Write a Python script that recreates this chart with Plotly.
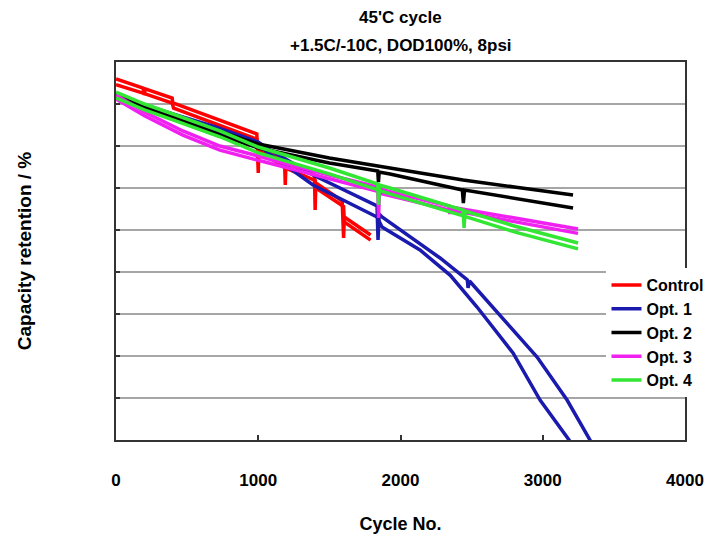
import plotly.graph_objects as go

# ---------------- data ----------------
series_names = ["Control", "Opt. 1", "Opt. 2", "Opt. 3", "Opt. 4"]
series_colors = ["#ff0000", "#1a1aae", "#000000", "#f020f0", "#33e633"]

# Control (two cells)
control_a_x = [0, 190, 200, 205, 395, 400, 405, 990, 1000, 1005, 1185, 1190, 1195, 1395, 1400, 1405, 1590, 1600, 1605, 1790]
control_a_y = [97.98, 96.9, 96.07, 96.79, 95.71, 95.0, 95.12, 91.43, 86.79, 90.0, 88.1, 85.36, 87.98, 86.55, 82.38, 85.6, 83.45, 79.05, 81.55, 79.4]
control_b_x = [0, 190, 395, 405, 990, 1005, 1190, 1400, 1405, 1600, 1605, 1790]
control_b_y = [97.3, 96.3, 95.1, 94.5, 90.8, 89.5, 87.4, 85.9, 85.0, 82.8, 80.95, 78.8]

# Opt. 1
opt1_a_x = [0, 200, 400, 700, 1000, 1060, 1385, 1835, 1842, 1850, 1870, 2278, 2470, 2475, 2485, 2700, 2960, 3171, 3332, 3360]
opt1_a_y = [96.07, 94.88, 93.81, 92.26, 90.48, 89.76, 86.55, 82.86, 78.81, 81.9, 81.55, 76.67, 74.05, 73.1, 73.93, 69.88, 64.88, 59.76, 55.0, 54.17]
opt1_b_x = [0, 400, 1000, 1060, 1385, 1835, 1870, 2137, 2350, 2538, 2791, 2981, 3185, 3220]
opt1_b_y = [95.83, 93.45, 90.12, 89.29, 85.36, 81.55, 80.36, 77.62, 74.6, 70.83, 65.36, 59.76, 55.0, 54.05]

# Opt. 2
opt2_a_x = [0, 400, 1000, 1500, 1926, 2440, 2800, 3213]
opt2_a_y = [96.07, 93.57, 90.24, 88.57, 87.38, 85.95, 85.12, 84.17]
opt2_b_x = [0, 400, 1000, 1500, 1840, 1845, 1850, 1926, 2435, 2442, 2450, 2800, 3213]
opt2_b_y = [95.71, 93.21, 89.76, 87.98, 87.02, 85.71, 86.9, 86.67, 84.76, 83.21, 84.76, 83.81, 82.62]

# Opt. 3
opt3_a_x = [0, 200, 470, 730, 1000, 1200, 1500, 1840, 1846, 1852, 2340, 2347, 2354, 2800, 3248]
opt3_a_y = [96.07, 94.05, 91.79, 90.0, 88.81, 87.86, 86.55, 85.12, 81.43, 84.88, 82.86, 81.9, 82.74, 81.43, 80.12]
opt3_b_x = [0, 200, 470, 730, 1000, 1200, 1500, 1840, 1852, 2340, 2800, 3248]
opt3_b_y = [95.6, 93.6, 91.3, 89.5, 88.3, 87.4, 86.1, 84.6, 84.4, 82.4, 81.0, 79.6]

# Opt. 4
opt4_a_x = [0, 200, 400, 730, 1000, 1500, 1840, 1846, 1852, 1926, 2440, 2447, 2454, 2800, 3248]
opt4_a_y = [96.43, 95.0, 93.81, 91.79, 89.88, 87.38, 85.48, 82.98, 85.36, 85.0, 82.38, 80.24, 82.26, 80.48, 78.45]
opt4_b_x = [0, 200, 400, 730, 1000, 1500, 1840, 1926, 2440, 2800, 3248]
opt4_b_y = [95.73, 94.3, 93.1, 91.1, 89.18, 86.68, 84.78, 84.3, 81.68, 79.78, 77.75]

x_tick_vals = [0, 1000, 2000, 3000, 4000]
x_tick_text = ["0", "1000", "2000", "3000", "4000"]

title_line1 = "45'C cycle"
title_line2 = "+1.5C/-10C, DOD100%, 8psi"
x_title = "Cycle No."
y_title = "Capacity retention / %"

# ---------------- figure ----------------
cells = [
    [(control_a_x, control_a_y), (control_b_x, control_b_y)],
    [(opt1_a_x, opt1_a_y), (opt1_b_x, opt1_b_y)],
    [(opt2_a_x, opt2_a_y), (opt2_b_x, opt2_b_y)],
    [(opt3_a_x, opt3_a_y), (opt3_b_x, opt3_b_y)],
    [(opt4_a_x, opt4_a_y), (opt4_b_x, opt4_b_y)],
]

fig = go.Figure()
for name, color, pair in zip(series_names, series_colors, cells):
    for i, (xs, ys) in enumerate(pair):
        fig.add_trace(go.Scatter(
            x=xs, y=ys, mode="lines", name="<b>" + name + "</b>", legendgroup=name,
            showlegend=(i == 0),
            line=dict(color=color, width=3.5),
        ))

font_family = "Liberation Sans, Arial, sans-serif"

fig.update_layout(
    width=709, height=541,
    margin=dict(l=116, r=24, t=62, b=101, autoexpand=False),
    paper_bgcolor="white", plot_bgcolor="white",
    font=dict(family=font_family, color="black"),
    title=dict(text="<b>" + title_line1 + "</b>", x=0.5647, xanchor="center",
               y=1 - 17 / 541, yanchor="middle", font=dict(size=17)),
    showlegend=True,
    legend=dict(x=0.862, xanchor="left", y=0.455, yanchor="top",
                bgcolor="white", borderwidth=0,
                font=dict(size=16, family=font_family),
                tracegroupgap=0),
    annotations=[dict(text="<b>" + title_line2 + "</b>", xref="paper", yref="paper",
                      x=0.5, y=(440 - 45) / 378, xanchor="center", yanchor="middle",
                      showarrow=False, font=dict(size=17))],
)

fig.update_xaxes(
    range=[0, 4000], tickvals=x_tick_vals, ticktext=["<b>%s</b>" % t for t in x_tick_text],
    ticks="inside", ticklen=5, tickcolor="#333", tickwidth=1.5,
    showline=True, linecolor="#333", linewidth=1.5, mirror=True,
    showgrid=False, zeroline=False,
    tickfont=dict(size=17), ticklabelstandoff=24,
    title=dict(text="<b>" + x_title + "</b>", font=dict(size=18), standoff=28),
)
fig.update_yaxes(
    range=[55, 100], dtick=5, tick0=55, showticklabels=False,
    ticks="inside", ticklen=4, tickcolor="#333", tickwidth=1.5,
    showline=True, linecolor="#333", linewidth=1.5, mirror=True,
    showgrid=True, gridcolor="#a6a6a6", gridwidth=1.5, zeroline=False,
    title=dict(text="<b>" + y_title + "</b>", font=dict(size=19), standoff=78),
)

fig.write_html("out.html")
